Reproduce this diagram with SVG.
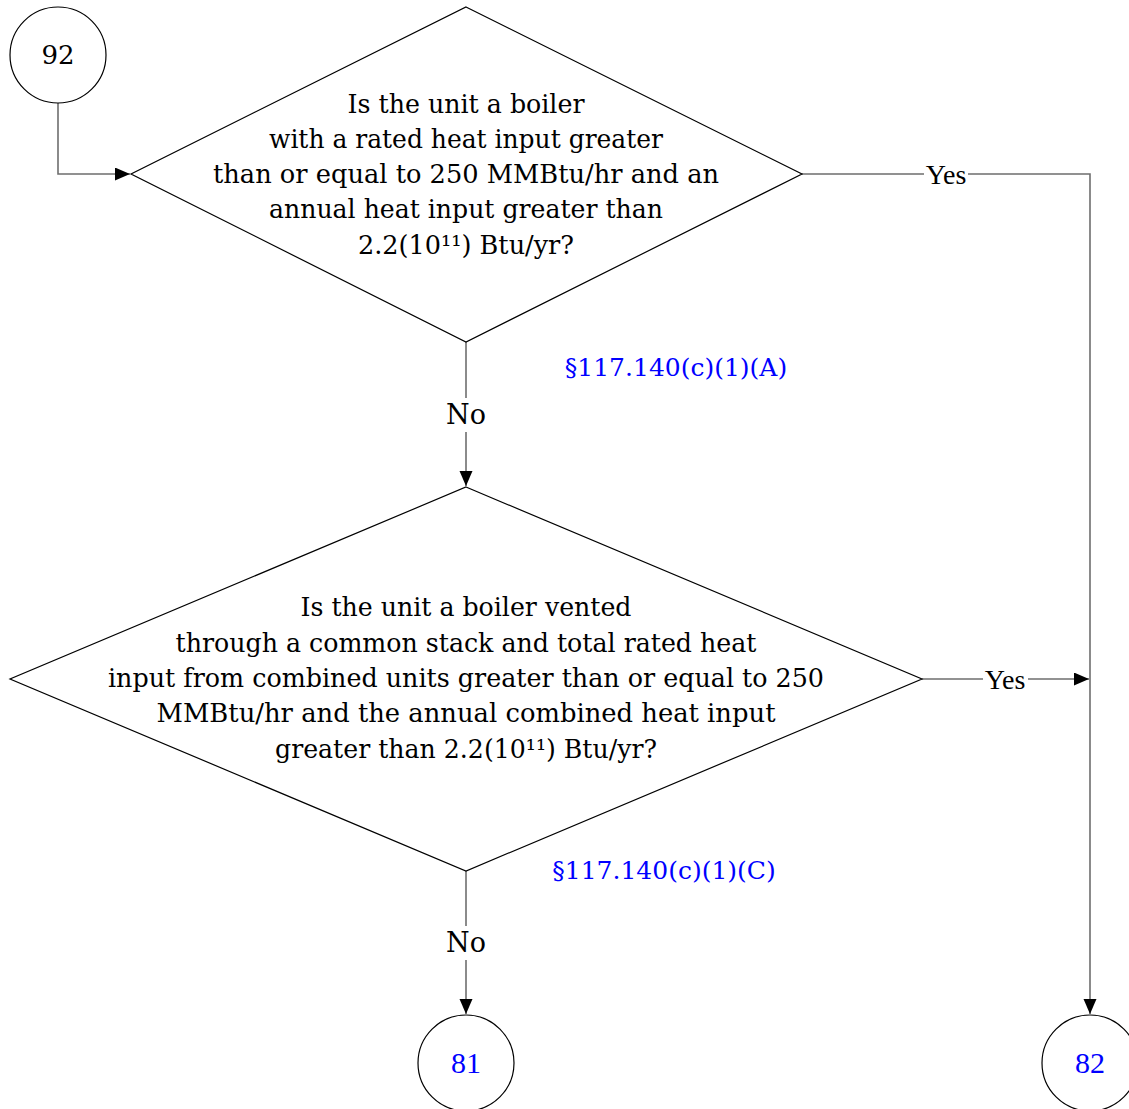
<svg xmlns="http://www.w3.org/2000/svg" width="1129" height="1109" viewBox="0 0 1129 1109">
<style>
.shape{fill:#fff;stroke:#000;stroke-width:1.2}
.conn{fill:none;stroke:#6e6e6e;stroke-width:1.6}
.t{font-family:"DejaVu Serif","Liberation Serif",serif;font-size:26px;fill:#000;text-anchor:middle}
.nl{font-family:"DejaVu Serif","Liberation Serif",serif;font-size:27px;fill:#000;text-anchor:middle}
.lbl{font-family:"Liberation Serif","DejaVu Serif",serif;font-size:28px;fill:#000;text-anchor:middle}
.ref{font-family:"DejaVu Serif","Liberation Serif",serif;font-size:25px;fill:#0000ff;text-anchor:middle}
.num{font-family:"Liberation Serif",serif;font-size:30px;fill:#0000ff;text-anchor:middle}
.bg{fill:#fff;stroke:none}
</style>
<defs>
<marker id="arr" markerUnits="userSpaceOnUse" markerWidth="16" markerHeight="14" refX="15" refY="6.5" orient="auto">
<path d="M0,0 L15,6.5 L0,13 z" fill="#000"/>
</marker>
</defs>
<g id="connectors">
<path class="conn" d="M58,103 V174 H130" marker-end="url(#arr)"/>
<path class="conn" d="M466,342 V486" marker-end="url(#arr)"/>
<path class="conn" d="M802,174 H1090 V1014" marker-end="url(#arr)"/>
<path class="conn" d="M922,679 H1089" marker-end="url(#arr)"/>
<path class="conn" d="M466,871 V1014" marker-end="url(#arr)"/>
<rect class="bg" x="444" y="398" width="44" height="34"/>
<text class="nl" x="466" y="424">No</text>
<rect class="bg" x="924" y="160" width="44" height="28"/>
<text class="lbl" x="946" y="184">Yes</text>
<rect class="bg" x="983" y="665" width="45" height="28"/>
<text class="lbl" x="1005" y="689">Yes</text>
<rect class="bg" x="444" y="926" width="44" height="34"/>
<text class="nl" x="466" y="952">No</text>
</g>
<g id="node92">
<circle class="shape" cx="58" cy="55" r="48"/>
<text class="t" x="58" y="64">92</text>
</g>
<g id="decision1">
<polygon class="shape" points="466,7 802,174 466,342 131,174"/>
<text class="t" x="466" y="113" textLength="237" lengthAdjust="spacingAndGlyphs">Is the unit a boiler</text>
<text class="t" x="466" y="148" textLength="394" lengthAdjust="spacingAndGlyphs">with a rated heat input greater</text>
<text class="t" x="466" y="183" textLength="506" lengthAdjust="spacingAndGlyphs">than or equal to 250 MMBtu/hr and an</text>
<text class="t" x="466" y="218" textLength="394" lengthAdjust="spacingAndGlyphs">annual heat input greater than</text>
<text class="t" x="466" y="254" textLength="216" lengthAdjust="spacingAndGlyphs">2.2(10¹¹) Btu/yr?</text>
<text class="ref" x="676" y="376">§117.140(c)(1)(A)</text>
</g>
<g id="decision2">
<polygon class="shape" points="466,487 922,679 466,871 10,679"/>
<text class="t" x="466" y="616" textLength="331" lengthAdjust="spacingAndGlyphs">Is the unit a boiler vented</text>
<text class="t" x="466" y="652" textLength="581" lengthAdjust="spacingAndGlyphs">through a common stack and total rated heat</text>
<text class="t" x="466" y="687" textLength="716" lengthAdjust="spacingAndGlyphs">input from combined units greater than or equal to 250</text>
<text class="t" x="466" y="722" textLength="619" lengthAdjust="spacingAndGlyphs">MMBtu/hr and the annual combined heat input</text>
<text class="t" x="466" y="758" textLength="382" lengthAdjust="spacingAndGlyphs">greater than 2.2(10¹¹) Btu/yr?</text>
<text class="ref" x="664" y="879">§117.140(c)(1)(C)</text>
</g>
<g id="node81">
<circle class="shape" cx="466" cy="1063" r="48"/>
<text class="num" x="466" y="1073">81</text>
</g>
<g id="node82">
<circle class="shape" cx="1090" cy="1063" r="48"/>
<text class="num" x="1090" y="1073">82</text>
</g>
</svg>
